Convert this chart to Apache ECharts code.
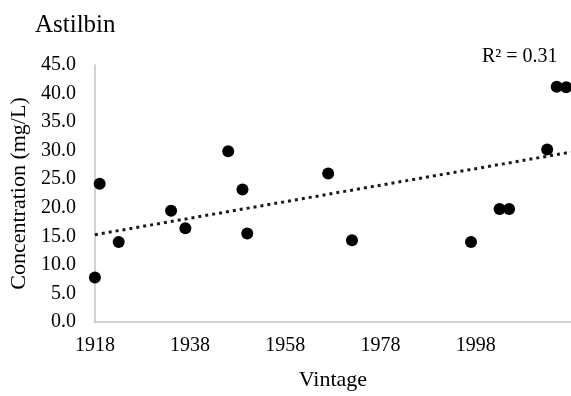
<!DOCTYPE html>
<html>
<head>
<meta charset="utf-8">
<script src="https://cdn.jsdelivr.net/npm/echarts@6/dist/echarts.min.js"></script>
<style>
html,body{margin:0;padding:0;background:#fff;}
#chart{width:571px;height:396px;}
</style>
</head>
<body>
<div id="chart"></div>
<script>
// Data
var vintages = [1918, 1919, 1923, 1934, 1937, 1946, 1949, 1950, 1967, 1972, 1997, 2003, 2005, 2013, 2015, 2017];
var concentrations = [7.8, 24.2, 14.0, 19.5, 16.4, 29.9, 23.2, 15.5, 26.0, 14.3, 14.0, 19.8, 19.8, 30.2, 41.2, 41.1];
var xTickLabels = [1918, 1938, 1958, 1978, 1998];
var yTickLabels = [0, 5, 10, 15, 20, 25, 30, 35, 40, 45];
var chartTitle = 'Astilbin';
var xName = 'Vintage';
var yName = 'Concentration (mg/L)';

var FONT = '"Liberation Serif", "Times New Roman", serif';

// Linear least-squares trend (as Excel's linear trendline)
var n = vintages.length, sx = 0, sy = 0;
for (var i = 0; i < n; i++) { sx += vintages[i]; sy += concentrations[i]; }
var mx = sx / n, my = sy / n, sxy = 0, sxx = 0, syy = 0;
for (var i = 0; i < n; i++) {
  var dx = vintages[i] - mx, dy = concentrations[i] - my;
  sxy += dx * dy; sxx += dx * dx; syy += dy * dy;
}
var slope = sxy / sxx, intercept = my - slope * mx;
var r2 = (sxy * sxy) / (sxx * syy);
var xMin = 1918, xMax = 2018;
var trend = [[xMin, intercept + slope * xMin], [xMax, intercept + slope * xMax]];

var points = vintages.map(function (v, i) { return [v, concentrations[i]]; });

var chart = echarts.init(document.getElementById('chart'), null, {renderer: 'canvas'});
chart.setOption({
  backgroundColor: '#ffffff',
  animation: false,
  textStyle: {fontFamily: FONT},
  title: {
    text: chartTitle,
    left: 30, top: 8,
    textStyle: {fontFamily: FONT, fontSize: 25, fontWeight: 'normal', color: '#000'}
  },
  grid: {left: 93, right: 0, top: 65, bottom: 74, containLabel: false},
  xAxis: {
    type: 'value',
    min: xMin, max: xMax,
    name: xName,
    nameLocation: 'middle',
    nameGap: 47,
    nameTextStyle: {fontFamily: FONT, fontSize: 22, color: '#000'},
    axisLine: {show: true, lineStyle: {color: '#c4c4c4', width: 1.5}},
    axisTick: {show: false},
    splitLine: {show: false},
    axisLabel: {
      customValues: xTickLabels,
      formatter: function (v) { return String(v); },
      fontFamily: FONT, fontSize: 20, color: '#000', margin: 14
    }
  },
  yAxis: {
    type: 'value',
    min: 0, max: 45, interval: 5,
    name: yName,
    nameLocation: 'middle',
    nameRotate: 90,
    nameGap: 62,
    nameTextStyle: {fontFamily: FONT, fontSize: 22, color: '#000'},
    axisLine: {show: true, lineStyle: {color: '#c4c4c4', width: 1.5}},
    axisTick: {show: false},
    splitLine: {show: false},
    axisLabel: {
      customValues: yTickLabels,
      formatter: function (v) { return v.toFixed(1); },
      fontFamily: FONT, fontSize: 20, color: '#000', margin: 19
    }
  },
  series: [
    {
      type: 'line',
      data: trend,
      symbol: 'none',
      lineStyle: {color: '#1a1a1a', width: 3, type: [3, 4]},
      silent: true,
      z: 2
    },
    {
      type: 'scatter',
      data: points,
      symbol: 'circle',
      symbolSize: 12,
      itemStyle: {color: '#000', opacity: 1},
      z: 3
    }
  ],
  graphic: [{
    type: 'text',
    left: 482, top: 47,
    style: {
      text: 'R\u00b2 = ' + r2.toFixed(2),
      font: '20px ' + FONT,
      fill: '#000'
    }
  }]
});
</script>
</body>
</html>
